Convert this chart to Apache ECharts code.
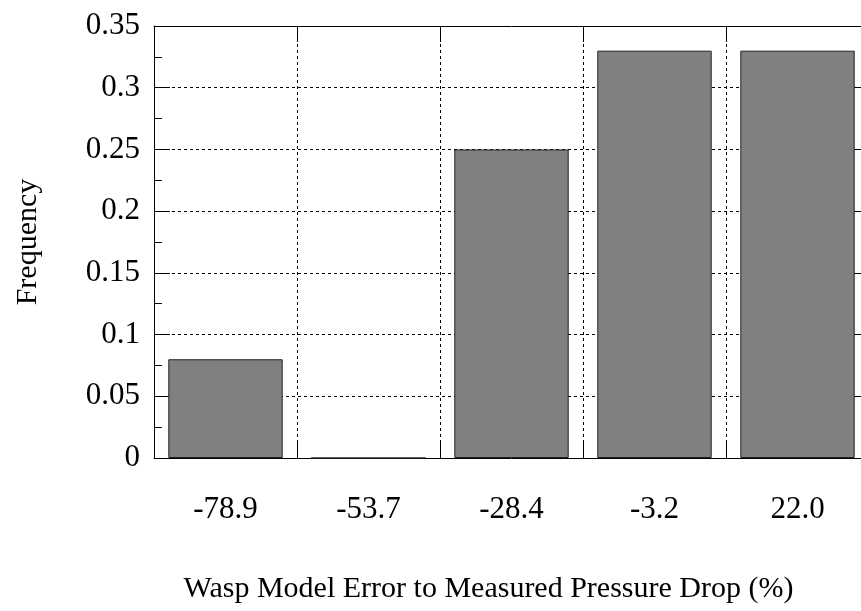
<!DOCTYPE html>
<html>
<head>
<meta charset="utf-8">
<script src="https://cdn.jsdelivr.net/npm/echarts@6/dist/echarts.min.js"></script>
<style>
html,body{margin:0;padding:0;background:#fff;overflow:hidden;}
#chart{width:869px;height:611px;}
</style>
</head>
<body>
<div id="chart"></div>
<script>
const categories = ['-78.9', '-53.7', '-28.4', '-3.2', '22.0'];
const frequency = [0.08, 0, 0.25, 0.33, 0.33];
const yMin = 0, yMax = 0.35, yStep = 0.05;
const xTitle = 'Wasp Model Error to Measured Pressure Drop (%)';
const yTitle = 'Frequency';

const FONT = "'Liberation Serif', 'DejaVu Serif', serif";
const gridDash = { show: true, lineStyle: { color: '#000', width: 1, type: [3, 3] } };

const chart = echarts.init(document.getElementById('chart'), null, { renderer: 'canvas' });
chart.setOption({
  animation: false,
  backgroundColor: '#fff',
  grid: { left: 154, right: 0, top: 26, bottom: 153, containLabel: false },
  xAxis: [
    {
      type: 'category', data: categories, position: 'bottom', boundaryGap: true,
      axisLine: { show: true, onZero: false, lineStyle: { color: '#000', width: 1 } },
      axisTick: { show: true, inside: true, length: 16, alignWithLabel: false, lineStyle: { color: '#000' } },
      axisLabel: { color: '#000', fontFamily: FONT, fontSize: 31, margin: 36 },
      splitLine: gridDash,
      name: xTitle, nameLocation: 'middle', nameGap: 116,
      nameTextStyle: { color: '#000', fontFamily: FONT, fontSize: 30, padding: [0, 46, 0, 0] }
    },
    {
      type: 'category', data: categories, position: 'top', boundaryGap: true,
      axisLine: { show: true, onZero: false, lineStyle: { color: '#000', width: 1 } },
      axisTick: { show: true, inside: true, length: 16, alignWithLabel: false, lineStyle: { color: '#000' } },
      axisLabel: { show: false }, splitLine: { show: false }
    }
  ],
  yAxis: [
    {
      type: 'value', min: yMin, max: yMax, interval: yStep, position: 'left',
      axisLine: { show: true, lineStyle: { color: '#000', width: 1 } },
      axisTick: { show: true, inside: true, length: 16, lineStyle: { color: '#000' } },
      minorTick: { show: true, splitNumber: 2, length: 8, lineStyle: { color: '#000' } },
      axisLabel: { color: '#000', fontFamily: FONT, fontSize: 31, margin: 14 },
      splitLine: gridDash,
      name: yTitle, nameLocation: 'middle', nameGap: 111, nameRotate: 90,
      nameTextStyle: { color: '#000', fontFamily: FONT, fontSize: 30 }
    },
    {
      type: 'value', min: yMin, max: yMax, interval: yStep, position: 'right',
      axisLine: { show: true, lineStyle: { color: '#000', width: 1 } },
      axisTick: { show: true, inside: true, length: 16, lineStyle: { color: '#000' } },
      minorTick: { show: true, splitNumber: 2, length: 8, lineStyle: { color: '#000' } },
      axisLabel: { show: false }, splitLine: { show: false }
    }
  ],
  series: [{
    type: 'bar', data: frequency, xAxisIndex: 0, yAxisIndex: 0,
    barCategoryGap: '20%',
    itemStyle: { color: '#808080', borderColor: '#222', borderWidth: 1 }
  }]
});
</script>
</body>
</html>
